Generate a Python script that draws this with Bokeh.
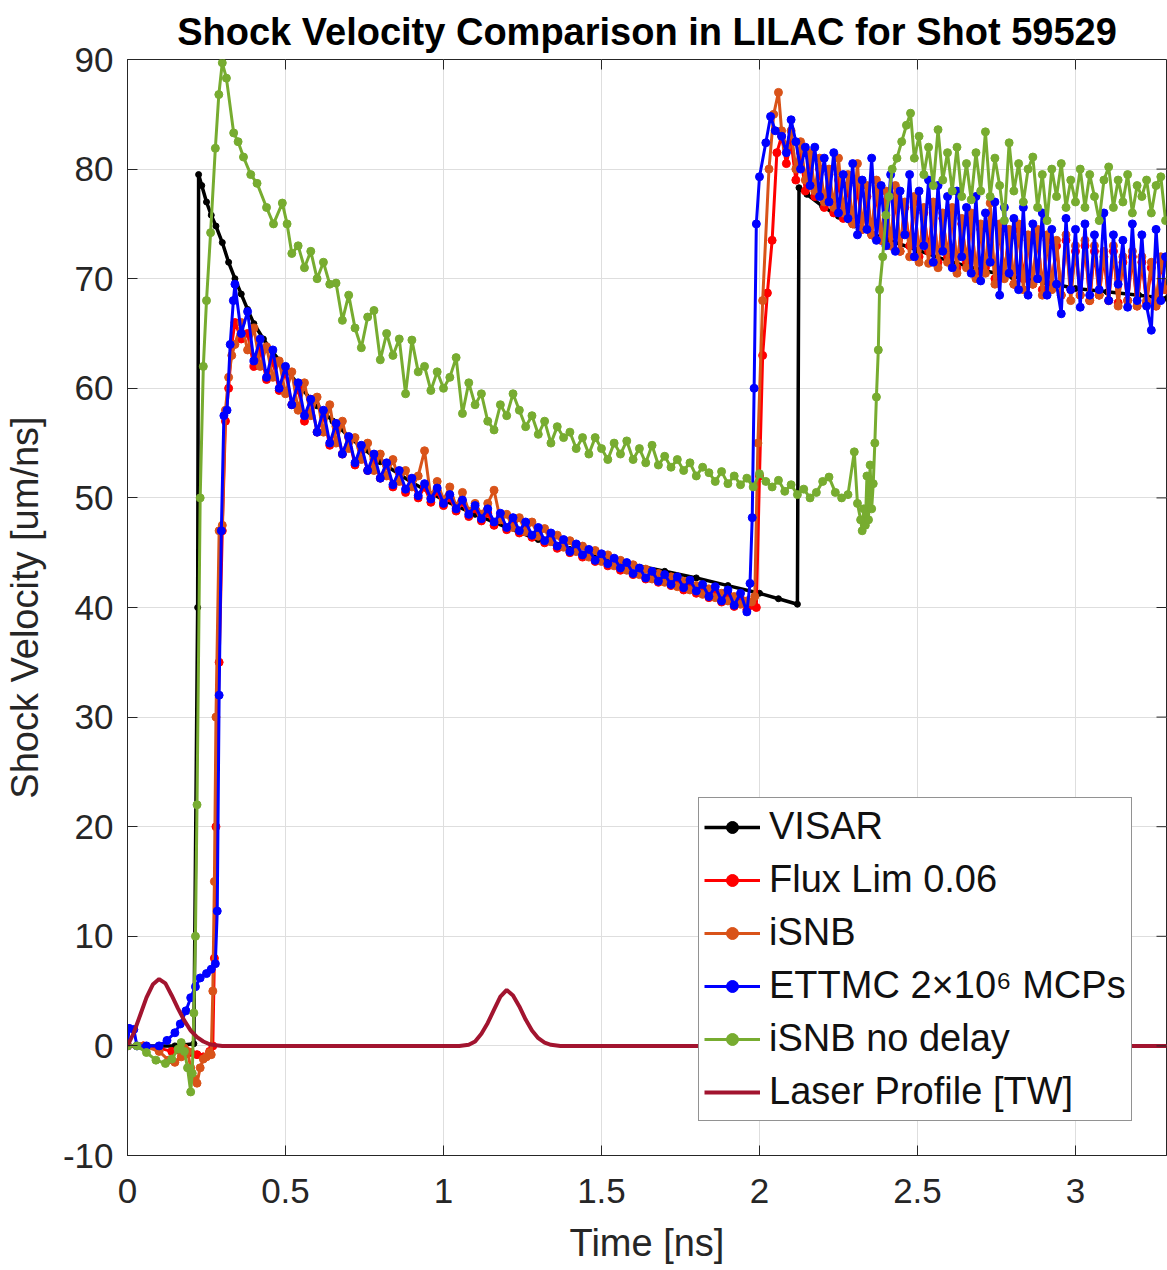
import numpy as np
from bokeh.plotting import figure
from bokeh.models import (FixedTicker, Legend, LegendItem, Range1d,
                          CustomJSTickFormatter, Title)
from bokeh.embed import file_html
from bokeh.resources import INLINE

# ---------------- data ----------------
x_ticks = [0, 0.5, 1, 1.5, 2, 2.5, 3]
y_ticks = [-10, 0, 10, 20, 30, 40, 50, 60, 70, 80, 90]

# VISAR
visar_t = [0, 0.05, 0.1, 0.15, 0.21, 0.222, 0.225, 0.235, 0.25, 0.265, 0.28, 0.30, 0.32, 0.34,
           0.36, 0.38, 0.40, 0.43, 0.46, 0.50, 0.55, 0.60, 0.65, 0.70, 0.75, 0.80, 0.90, 1.00,
           1.10, 1.20, 1.30, 1.40, 1.50, 1.60, 1.70, 1.80, 1.90, 2.00, 2.06, 2.12, 2.125, 2.15,
           2.20, 2.25, 2.30, 2.35, 2.40, 2.50, 2.60, 2.70, 2.80, 2.90, 3.00, 3.10, 3.20, 3.29]
visar_v = [0, 0, 0, 0, 0.2, 40, 79.5, 78.5, 77.0, 75.8, 74.8, 73.3, 71.5, 70.0,
           68.6, 67.2, 65.9, 64.5, 63.3, 61.8, 60.0, 58.4, 57.0, 55.6, 54.4, 53.3, 51.4, 49.8,
           48.5, 47.3, 46.2, 45.3, 44.5, 43.9, 43.3, 42.7, 42.0, 41.3, 40.8, 40.3, 78.3, 77.7,
           76.6, 75.7, 74.9, 74.2, 73.6, 72.6, 71.6, 70.8, 70.2, 69.7, 69.1, 68.8, 68.5, 68.2]

# shared sampling grids of the simulations
decay_start, decay_step = 0.34, 0.02
late_start, late_step = 2.07, 0.015

# Flux Lim 0.06
flux_early_t = [0, 0.05, 0.1, 0.14, 0.18, 0.2, 0.22, 0.24, 0.26, 0.27, 0.275, 0.28, 0.29, 0.30, 0.31, 0.32, 0.33]
flux_early_v = [0, 0, -0.2, -0.5, -0.8, -0.6, -0.8, -1.0, -0.5, 0, 8, 20, 35, 47, 57, 60, 64]
flux_decay = [66.0, 64.5, 65.0, 62.0, 63.5, 60.8, 62.5, 59.8, 61.5, 58.5,
              60.0, 57.0, 59.0, 56.0, 57.5, 54.8, 56.5, 54.0, 55.5, 53.0,
              54.5, 52.5, 53.5, 51.8, 53.0, 51.0, 52.3, 50.5, 51.5, 50.0,
              51.0, 49.6, 50.6, 49.3, 50.0, 48.8, 49.6, 48.3, 49.0, 47.9,
              48.6, 47.5, 48.3, 47.1, 47.9, 46.8, 47.5, 46.4, 47.0, 45.9,
              46.5, 45.4, 46.0, 45.0, 45.5, 44.6, 45.1, 44.2, 44.7, 43.8,
              44.3, 43.4, 43.9, 43.0, 43.4, 42.6, 43.1, 42.3, 42.8, 42.0,
              42.5, 41.6, 42.2, 41.3, 41.8, 40.9, 41.5, 40.5, 41.2, 40.1,
              40.8, 39.8]
flux_jump_t = [1.975, 1.99, 2.0, 2.01, 2.025, 2.04, 2.055]
flux_jump_v = [40.2, 40.0, 52.0, 63.0, 68.7, 73.5, 81.5]
flux_late = [83.0, 80.5, 82.5, 79.0, 81.5, 78.0, 81.0, 77.5, 80.0, 76.5,
             79.5, 76.0, 79.0, 75.5, 78.5, 75.0, 78.5, 74.5, 77.5, 74.0,
             78.0, 73.5, 77.0, 73.0, 77.5, 72.5, 76.5, 73.0, 77.0, 72.0,
             76.0, 72.5, 76.5, 71.5, 75.5, 72.0, 76.0, 71.0, 75.0, 71.5,
             75.5, 70.5, 74.5, 71.0, 75.0, 70.0, 74.5, 70.5, 74.0, 69.5,
             74.5, 70.0, 73.5, 69.5, 74.0, 69.0, 73.5, 69.5, 73.0, 68.5,
             73.5, 69.0, 72.5, 68.5, 73.0, 68.0, 72.5, 68.5, 72.0, 68.0,
             72.5, 67.8, 71.5, 68.0, 72.0, 67.5, 71.5, 67.8, 71.0, 67.5,
             71.5, 69.0]

# iSNB
isnb_early_t = [0, 0.05, 0.1, 0.13, 0.15, 0.17, 0.18, 0.19, 0.2, 0.21, 0.22, 0.23, 0.24, 0.25,
                0.26, 0.265, 0.27, 0.275, 0.28, 0.29, 0.30, 0.31, 0.32, 0.33]
isnb_early_v = [0, 0, -0.5, -1.3, -1.5, -1.0, -0.2, -0.5, -2.0, -3.0, -3.4, -2.0, -1.2, -1.0,
                -0.6, -0.8, 5, 15, 30, 47, 47.5, 58, 61, 63]
isnb_decay = [64.0, 66.0, 63.5, 65.5, 62.0, 63.8, 61.0, 62.5, 59.5, 61.5,
              58.0, 60.5, 57.5, 59.2, 56.0, 58.5, 55.0, 57.0, 54.5, 55.5,
              53.5, 55.0, 52.5, 54.0, 52.0, 53.5, 51.5, 52.5, 51.0, 52.0,
              54.3, 50.0, 51.5, 49.8, 51.0, 49.2, 50.5, 48.8, 49.5, 48.5,
              49.5, 50.7, 48.0, 48.5, 47.3, 48.2, 46.9, 47.8, 46.5, 47.2,
              46.0, 46.6, 45.5, 46.1, 45.1, 45.6, 44.6, 45.2, 44.2, 44.8,
              43.8, 44.3, 43.4, 43.9, 43.0, 43.5, 42.6, 43.1, 42.3, 42.8,
              41.9, 42.4, 41.6, 42.0, 41.2, 41.7, 40.9, 41.3, 40.6, 41.0,
              40.3, 40.6]
isnb_jump_t = [1.975, 1.985, 1.995, 2.01, 2.03, 2.045, 2.06]
isnb_jump_v = [40.5, 41.0, 55.0, 68.0, 80.0, 85.0, 87.0]
isnb_late = [83.5, 82.0, 83.5, 80.0, 82.5, 79.0, 81.5, 78.0, 81.0, 77.0,
             80.0, 76.5, 81.0, 76.0, 79.5, 75.0, 80.5, 74.5, 78.5, 74.0,
             79.0, 73.5, 78.0, 73.0, 78.5, 72.5, 77.0, 72.0, 77.5, 71.5,
             76.5, 71.4, 77.0, 71.0, 76.0, 71.5, 76.5, 70.5, 75.5, 71.0,
             76.0, 70.0, 75.0, 70.5, 76.9, 69.5, 75.0, 70.0, 74.5, 69.5,
             75.0, 69.0, 74.0, 69.5, 74.5, 68.5, 74.0, 69.0, 73.5, 68.5,
             74.0, 68.0, 73.0, 68.5, 73.5, 68.0, 73.0, 68.5, 72.5, 68.0,
             73.0, 67.5, 72.0, 68.0, 72.5, 67.5, 72.0, 68.0, 71.5, 67.5,
             72.0, 69.0]

# ETTMC 2x10^6 MCPs
ettmc_early_t = [0, 0.005, 0.02, 0.03, 0.06, 0.1, 0.125, 0.15, 0.167, 0.185, 0.2, 0.215, 0.23,
                 0.25, 0.265, 0.278, 0.284, 0.29, 0.297, 0.305, 0.315, 0.325, 0.335]
ettmc_early_v = [0, 1.6, 1.5, 0, 0, 0, 0.5, 1.2, 2.0, 3.2, 4.4, 5.4, 6.2,
                 6.6, 7.0, 7.5, 12.3, 32, 47, 57.5, 58, 64, 68]
ettmc_decay = [69.5, 65.0, 67.0, 62.5, 64.5, 61.0, 63.5, 60.0, 62.0, 58.5,
               60.5, 57.5, 59.0, 56.0, 58.0, 55.0, 56.8, 54.0, 55.6, 53.2,
               54.8, 52.5, 54.0, 51.8, 53.2, 51.2, 52.5, 50.8, 51.8, 50.2,
               51.3, 49.9, 50.9, 49.5, 50.3, 49.0, 49.8, 48.5, 49.3, 48.1,
               49.0, 47.8, 48.6, 47.3, 48.2, 47.0, 47.8, 46.6, 47.3, 46.1,
               46.8, 45.6, 46.2, 45.1, 45.8, 44.8, 45.3, 44.3, 44.9, 44.0,
               44.5, 43.6, 44.1, 43.1, 43.6, 42.7, 43.3, 42.4, 43.0, 42.1,
               42.8, 41.8, 42.5, 41.5, 42.1, 41.0, 41.9, 40.6, 41.6, 40.2,
               41.3, 39.6]
ettmc_jump_t = [1.97, 1.977, 1.983, 1.99, 2.0, 2.02, 2.035, 2.05]
ettmc_jump_v = [42.2, 48.2, 60.0, 75.0, 79.3, 82.4, 84.8, 83.5]
ettmc_late = [83.0, 81.5, 84.5, 82.5, 80.0, 82.0, 78.5, 82.0, 77.5, 81.0,
              77.0, 81.5, 76.0, 79.5, 75.5, 80.5, 74.0, 79.0, 74.5, 81.0,
              73.5, 78.5, 73.0, 79.5, 72.5, 78.0, 74.0, 79.5, 72.0, 78.0,
              73.0, 79.0, 71.5, 78.5, 72.5, 77.5, 71.0, 78.0, 72.0, 76.5,
              70.5, 77.5, 69.8, 76.0, 71.5, 77.0, 68.5, 76.5, 70.5, 75.5,
              69.0, 76.5, 68.5, 75.0, 70.0, 76.0, 68.5, 74.5, 69.5, 66.8,
              75.5, 69.0, 74.5, 67.4, 75.0, 68.5, 74.0, 69.0, 76.0, 68.0,
              74.0, 69.5, 73.5, 67.4, 75.0, 68.0, 74.0, 67.5, 65.3, 74.5,
              68.0, 72.0]

# iSNB no delay
nodelay_early_t = [0, 0.03, 0.06, 0.09, 0.12, 0.14, 0.16, 0.17, 0.18, 0.19, 0.20, 0.205, 0.21,
                   0.215, 0.22, 0.23, 0.24, 0.25, 0.263, 0.278, 0.289, 0.30, 0.313, 0.336, 0.35,
                   0.367, 0.39, 0.41, 0.44, 0.462, 0.49, 0.505, 0.52]
nodelay_early_v = [0, 0, -0.6, -1.3, -1.6, -1.2, -0.3, 0.3, -0.5, -2.0, -4.2, -2.5, 3,
                   10, 22, 50, 62, 68, 74.2, 81.9, 86.8, 89.7, 88.3, 83.3, 82.5,
                   81.1, 79.5, 78.7, 76.5, 75.0, 76.9, 75.0, 72.3]
nodelay_start, nodelay_step = 0.54, 0.02
nodelay_decay = [73.0, 71.0, 72.5, 70.0, 71.5, 69.5, 69.6, 66.2, 68.5, 65.5,
                 63.7, 66.5, 67.1, 62.6, 65.0, 63.0, 64.5, 59.5, 64.4, 61.5,
                 62.0, 59.8, 61.5, 60.0, 61.0, 62.8, 57.7, 60.5, 58.5, 59.5,
                 57.0, 56.2, 58.5, 57.5, 59.5, 58.0, 56.5, 57.5, 55.8, 57.0,
                 55.0, 56.5, 55.5, 56.0, 54.5, 55.5, 54.0, 55.5, 54.5, 53.5,
                 55.0, 54.0, 55.2, 53.5, 54.5, 53.2, 54.8, 53.0, 53.8, 52.8,
                 53.5, 52.5, 53.2, 52.0, 52.8, 52.3, 51.5, 52.4, 51.3, 52.0,
                 51.2, 51.8, 51.0, 52.2, 51.5, 51.0, 51.6, 50.6, 51.2, 50.3,
                 50.8, 50.0, 50.5, 51.5, 51.9, 50.5, 50.0, 50.3, 54.2]
nodelay_jump_t = [2.31, 2.32, 2.325, 2.33, 2.335, 2.34, 2.345, 2.35, 2.355, 2.36, 2.365, 2.37,
                  2.376, 2.38, 2.39, 2.40, 2.41, 2.42, 2.435, 2.45, 2.465, 2.478]
nodelay_jump_v = [49.5, 48.0, 47.0, 49.0, 47.5, 52.0, 48.0, 53.0, 49.0, 51.3, 55.0, 59.2,
                  63.5, 69.0, 72.0, 75.8, 77.5, 80.0, 81.0, 82.5, 84.0, 85.1]
nodelay_late_start = 2.49
nodelay_late = [81.0, 83.0, 79.5, 82.0, 78.5, 83.6, 79.0, 81.5, 78.0, 82.0,
                77.5, 80.5, 77.2, 81.5, 78.0, 83.4, 77.5, 81.0, 78.5, 75.3,
                82.4, 78.0, 80.5, 77.0, 80.0, 81.1, 76.5, 79.5, 75.3, 80.0,
                77.5, 80.5, 76.5, 79.0, 77.0, 80.0, 76.5, 79.5, 77.5, 75.3,
                79.0, 80.2, 76.5, 79.0, 77.0, 79.5, 76.0, 78.5, 77.5, 79.0,
                76.0, 78.5, 79.3, 75.3]

# Laser profile [TW]
laser_t = [0, 0.02, 0.04, 0.06, 0.08, 0.10, 0.12, 0.14, 0.16, 0.18, 0.20, 0.22, 0.24, 0.26,
           0.28, 0.30, 1.05, 1.08, 1.10, 1.12, 1.14, 1.16, 1.18, 1.20, 1.22, 1.24, 1.26, 1.28,
           1.30, 1.32, 1.34, 1.37, 3.29]
laser_v = [0, 1.2, 2.8, 4.4, 5.6, 6.1, 5.7, 4.6, 3.4, 2.3, 1.4, 0.8, 0.4, 0.15,
           0.05, 0.0, 0.0, 0.1, 0.4, 1.1, 2.1, 3.3, 4.5, 5.1, 4.6, 3.6, 2.4, 1.4,
           0.7, 0.3, 0.1, 0.0, 0.0]


def grid(start, step, n):
    return [round(start + step * i, 4) for i in range(n)]


flux_t = flux_early_t + grid(decay_start, decay_step, len(flux_decay)) + flux_jump_t + grid(late_start, late_step, len(flux_late))
flux_v = flux_early_v + flux_decay + flux_jump_v + flux_late
isnb_t = isnb_early_t + grid(decay_start, decay_step, len(isnb_decay)) + isnb_jump_t + grid(late_start, late_step, len(isnb_late))
isnb_v = isnb_early_v + isnb_decay + isnb_jump_v + isnb_late
ettmc_t = ettmc_early_t + grid(decay_start, decay_step, len(ettmc_decay)) + ettmc_jump_t + grid(late_start, late_step, len(ettmc_late))
ettmc_v = ettmc_early_v + ettmc_decay + ettmc_jump_v + ettmc_late
nodelay_t = nodelay_early_t + grid(nodelay_start, nodelay_step, len(nodelay_decay)) + nodelay_jump_t + grid(nodelay_late_start, late_step, len(nodelay_late))
nodelay_v = nodelay_early_v + nodelay_decay + nodelay_jump_v + nodelay_late

# ---------------- figure ----------------
FONT = "Liberation Sans"
AX = "#262626"
W, H = 1167, 1270
BL, BR, BT, BB = 127, 1, 59, 115
X0, X1, Y0, Y1 = 0, 3.288, -10, 90

p = figure(width=W, height=H, output_backend="svg", toolbar_location=None,
           x_range=Range1d(X0, X1), y_range=Range1d(Y0, Y1),
           min_border_left=BL, min_border_right=BR, min_border_top=BT, min_border_bottom=BB,
           background_fill_color="white", border_fill_color="white")
p.title = Title(text="Shock Velocity Comparison in LILAC for Shot 59529", align="center",
                text_font=FONT, text_font_size="38px", text_font_style="bold",
                text_color="black", text_line_height=0.8, standoff=14)
p.outline_line_color = AX
p.outline_line_width = 1

fmt = CustomJSTickFormatter(code="return tick.toString();")
for ax in (p.xaxis[0], p.yaxis[0]):
    ax.major_label_text_font = FONT
    ax.major_label_text_font_size = "35px"
    ax.major_label_text_color = AX
    ax.axis_label_text_font = FONT
    ax.axis_label_text_font_size = "38px"
    ax.axis_label_text_font_style = "normal"
    ax.axis_label_text_color = AX
    ax.axis_line_color = AX
    ax.major_tick_line_color = AX
    ax.major_tick_in = 10
    ax.major_tick_out = 0
    ax.minor_tick_in = 0
    ax.minor_tick_out = 0
    ax.formatter = fmt
p.xaxis.ticker = FixedTicker(ticks=x_ticks)
p.yaxis.ticker = FixedTicker(ticks=y_ticks)
p.xaxis.axis_label = "Time [ns]"
p.yaxis.axis_label = "Shock Velocity [um/ns]"
p.xaxis.major_label_standoff = 23
p.xaxis.axis_label_standoff = 16
p.yaxis.major_label_standoff = 14
p.yaxis.axis_label_standoff = 14

p.grid.grid_line_color = "#dedede"
p.grid.grid_line_width = 1

series = [
    ("VISAR", visar_t, visar_v, "black", 3.5, 6),
    ("Flux Lim 0.06", flux_t, flux_v, "#FF0000", 3, 8),
    ("iSNB", isnb_t, isnb_v, "#D95319", 3, 8),
    ("ETTMC 2\u00d710\u2076 MCPs", ettmc_t, ettmc_v, "#0000FF", 3, 8),
    ("iSNB no delay", nodelay_t, nodelay_v, "#77AC30", 3, 8),
]
items = []
for label, t, v, col, lw, ms in series:
    r1 = p.line(t, v, line_color=col, line_width=lw)
    r2 = p.scatter(t, v, size=ms, fill_color=col, line_color=col, marker="circle")
    items.append(LegendItem(label=label, renderers=[r1, r2]))
rl = p.line(laser_t, laser_v, line_color="#A2142F", line_width=4)
items.append(LegendItem(label="Laser Profile [TW]", renderers=[rl]))

# inward tick marks on the top and right edges of the box (MATLAB style), 10 px long
tick_px = 10
dx = tick_px * (X1 - X0) / (W - BL - BR)
dy = tick_px * (Y1 - Y0) / (H - BT - BB)
p.segment(x0=x_ticks, y0=[Y1] * len(x_ticks), x1=x_ticks, y1=[Y1 - dy] * len(x_ticks),
          line_color=AX, line_width=1)
p.segment(x0=[X1] * len(y_ticks), y0=y_ticks, x1=[X1 - dx] * len(y_ticks), y1=y_ticks,
          line_color=AX, line_width=1)

legend = Legend(items=items, location=(571, 34), label_text_font=FONT,
                label_text_font_size="38px", label_text_color="#111111",
                border_line_color="#262626", border_line_width=1,
                background_fill_color="white", background_fill_alpha=1,
                glyph_width=56, glyph_height=30, label_standoff=9, padding=5,
                spacing=6, label_height=47, margin=0)
p.add_layout(legend)

open("out.html", "w").write(file_html(p, INLINE))
